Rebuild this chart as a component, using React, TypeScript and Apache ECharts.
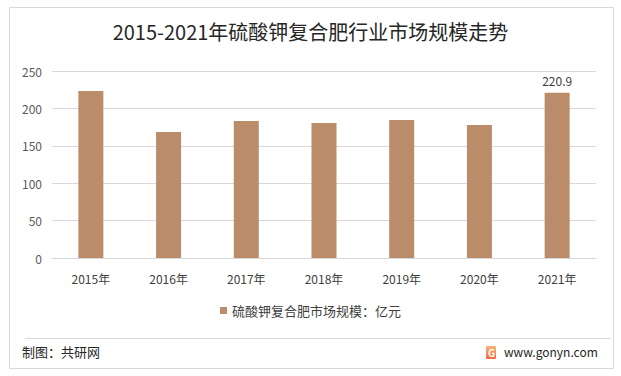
import React, { useEffect, useRef } from "react";
import * as echarts from "echarts";

const categories = ["2015年", "2016年", "2017年", "2018年", "2019年", "2020年", "2021年"];
const values = [223.2, 168.6, 183.3, 180.6, 184.6, 177.9, 220.9];
const seriesName = "硫酸钾复合肥市场规模：亿元";
const titleText = "2015-2021年硫酸钾复合肥行业市场规模走势";

export default function App() {
  const ref = useRef<HTMLDivElement>(null);
  useEffect(() => {
    if (!ref.current) return;
    const chart = echarts.init(ref.current, null, { renderer: "svg" });
    const font = "'Microsoft YaHei', 'Noto Sans CJK SC', sans-serif";
    chart.setOption({
      animation: false,
      backgroundColor: "#ffffff",
      textStyle: { fontFamily: font },
      title: {
        text: titleText,
        left: "center",
        top: 16,
        textStyle: { fontSize: 20, fontWeight: "normal", color: "#262626", fontFamily: font },
      },
      grid: { left: 52, right: 25, top: 71, bottom: 118, containLabel: false },
      legend: {
        bottom: 54,
        left: "center",
        itemWidth: 7,
        itemHeight: 7,
        itemGap: 4,
        icon: "rect",
        textStyle: { fontSize: 13, color: "#404040", fontFamily: font },
        data: [seriesName],
      },
      xAxis: {
        type: "category",
        data: categories,
        axisLine: { lineStyle: { color: "#d9d9d9" } },
        axisTick: { show: false },
        axisLabel: { color: "#404040", fontSize: 12, margin: 14, fontFamily: font },
      },
      yAxis: {
        type: "value",
        min: 0,
        max: 250,
        interval: 50,
        axisLine: { show: false },
        axisTick: { show: false },
        splitLine: { lineStyle: { color: "#d9d9d9" } },
        axisLabel: { color: "#595959", fontSize: 12, margin: 10, fontFamily: font },
      },
      series: [
        {
          name: seriesName,
          type: "bar",
          data: values.map((v, i) =>
            i === values.length - 1
              ? { value: v, label: { show: true, position: "top", distance: 6, color: "#404040", fontSize: 12 } }
              : v
          ),
          barWidth: 25,
          itemStyle: { color: "#bb8c6a" },
        },
      ],
      graphic: [
        {
          type: "rect",
          shape: { x: 9.5, y: 7.5, width: 604, height: 361 },
          style: { fill: "none", stroke: "#d9d9d9", lineWidth: 1 },
          silent: true,
        },
        {
          type: "line",
          shape: { x1: 25, y1: 338.5, x2: 611, y2: 338.5 },
          style: { stroke: "#d9d9d9", lineWidth: 1 },
        },
        {
          type: "text",
          left: 22,
          top: 345,
          style: { text: "制图：共研网", fontSize: 13, fill: "#262626", fontFamily: font },
        },
        {
          type: "rect",
          shape: { x: 486, y: 346, width: 10, height: 13, r: 1 },
          style: {
            fill: new echarts.graphic.LinearGradient(0, 0, 0, 1, [
              { offset: 0, color: "#f7b37a" },
              { offset: 1, color: "#ef6c3c" },
            ]),
          },
        },
        {
          type: "text",
          x: 488,
          y: 347,
          style: { text: "G", fontSize: 10, fontWeight: "bold", fill: "#ffffff", fontFamily: font },
        },
        {
          type: "text",
          left: 504,
          top: 345,
          style: { text: "www.gonyn.com", fontSize: 12, fill: "#262626", fontFamily: font },
        },
      ],
    });
    return () => chart.dispose();
  }, []);
  return (
    <div
      ref={ref}
      style={{ position: "absolute", left: 0, top: 0, width: 621, height: 376 }}
    />
  );
}
